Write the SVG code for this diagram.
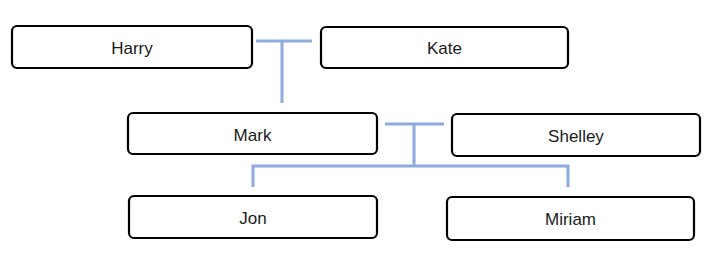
<svg xmlns="http://www.w3.org/2000/svg" width="713" height="260" viewBox="0 0 713 260">
<style>
.box{fill:#fff;stroke:#000;stroke-width:2.2}
.lbl{font-family:"Liberation Sans",Arial,sans-serif;font-size:17px;fill:#1a1a1a;text-anchor:middle}
.con{fill:none;stroke:#8eaadf;stroke-width:3}
</style>
<rect width="713" height="260" fill="#fff"/>
<g id="connectors">
<path class="con" d="M256 41H312M282 41V103"/>
<path class="con" d="M385 124H444M414 124V166M253 187V166H568V187"/>
</g>
<g id="harry"><rect class="box" x="12" y="26" width="240" height="42" rx="5"/><text class="lbl" x="132" y="54">Harry</text></g>
<g id="kate"><rect class="box" x="321" y="27" width="247" height="41" rx="5"/><text class="lbl" x="444.5" y="54">Kate</text></g>
<g id="mark"><rect class="box" x="128" y="113" width="249" height="41" rx="5"/><text class="lbl" x="252.5" y="141">Mark</text></g>
<g id="shelley"><rect class="box" x="452" y="114" width="248" height="42" rx="5"/><text class="lbl" x="576" y="142">Shelley</text></g>
<g id="jon"><rect class="box" x="129" y="196" width="248" height="42" rx="5"/><text class="lbl" x="253" y="224">Jon</text></g>
<g id="miriam"><rect class="box" x="447" y="197" width="247" height="43" rx="5"/><text class="lbl" x="570.5" y="225">Miriam</text></g>
</svg>
